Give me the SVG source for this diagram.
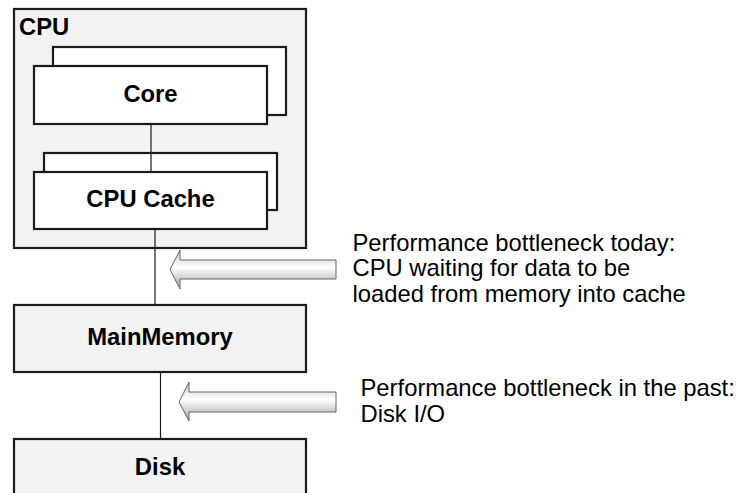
<svg xmlns="http://www.w3.org/2000/svg" width="738" height="493" viewBox="0 0 738 493">
<defs>
<linearGradient id="arrowGrad" x1="0" y1="0" x2="0" y2="1">
<stop offset="0" stop-color="#c4c4c4"/>
<stop offset="0.45" stop-color="#ffffff"/>
<stop offset="1" stop-color="#a0a0a0"/>
</linearGradient>
<style>
.box{fill:#f2f2f2;stroke:#1a1a1a;stroke-width:2.2}
.wbox{fill:#ffffff;stroke:#1a1a1a;stroke-width:2.2}
.lbl{font-family:"Liberation Sans",Arial,sans-serif;font-weight:bold;font-size:23.8px;fill:#000;text-anchor:middle}
.note{font-family:"Liberation Sans",Arial,sans-serif;font-size:23.8px;fill:#000}
.conn{stroke:#1a1a1a;stroke-width:1.2;fill:none}
.arrow{fill:url(#arrowGrad);stroke:#666;stroke-width:1}
</style>
</defs>
<g id="cpu">
<rect class="box" x="14" y="9" width="292" height="239"/>
<text class="lbl" x="19" y="35" style="text-anchor:start">CPU</text>
</g>
<g id="core">
<rect class="wbox" x="53" y="47" width="233" height="68"/>
<rect class="wbox" x="34" y="66" width="233" height="58"/>
<text class="lbl" x="150.5" y="102">Core</text>
</g>
<g id="cache">
<rect class="wbox" x="44" y="153" width="233" height="57"/>
<rect class="wbox" x="34" y="172" width="233" height="57"/>
<text class="lbl" x="150.5" y="207">CPU Cache</text>
</g>
<g id="mainmemory">
<rect class="box" x="14" y="305" width="292" height="67"/>
<text class="lbl" x="160" y="345">MainMemory</text>
</g>
<g id="disk">
<rect class="box" x="14" y="439" width="292" height="70"/>
<text class="lbl" x="160" y="475">Disk</text>
</g>
<g id="connectors">
<line class="conn" x1="151" y1="124" x2="151" y2="172"/>
<line class="conn" x1="155" y1="229" x2="155" y2="305"/>
<line class="conn" x1="160.5" y1="372" x2="160.5" y2="439"/>
</g>
<g id="arrow-today">
<path class="arrow" d="M170,269.5 L180,250 L180,260 L336,260 L336,279 L180,279 L180,289 Z"/>
</g>
<g id="arrow-past">
<path class="arrow" d="M179,402 L189,382 L189,392 L336,392 L336,412 L189,412 L189,421 Z"/>
</g>
<g id="note-today">
<text class="note" x="352.5" y="250.5">Performance bottleneck today:</text>
<text class="note" x="352.5" y="276">CPU waiting for data to be</text>
<text class="note" x="352.5" y="301.5">loaded from memory into cache</text>
</g>
<g id="note-past">
<text class="note" x="360.5" y="396">Performance bottleneck in the past:</text>
<text class="note" x="360.5" y="422">Disk I/O</text>
</g>
</svg>
